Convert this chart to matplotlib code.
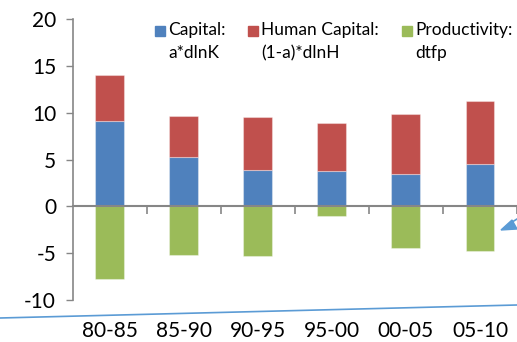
import matplotlib
matplotlib.use("Agg")
import matplotlib.pyplot as plt
import numpy as np
from matplotlib.lines import Line2D
from matplotlib.patches import Polygon, Rectangle

plt.rcParams["font.family"] = ["Lato", "DejaVu Sans"]
plt.rcParams["axes.unicode_minus"] = False

periods = ["80-85", "85-90", "90-95", "95-00", "00-05", "05-10"]
capital = [9.1, 5.3, 3.9, 3.8, 3.5, 4.5]
human = [4.9, 4.35, 5.6, 5.05, 6.4, 6.7]
tfp = [-7.75, -5.2, -5.3, -1.0, -4.5, -4.75]

BLUE, RED, GREEN = "#4F81BD", "#C0504D", "#9BBB59"
AXIS = "#868686"

fig = plt.figure(figsize=(5.17, 3.42), dpi=100)
ax = fig.add_axes([0.1406, 0.1228, 0.8594, 0.8216])

x = np.arange(len(periods))
w = 0.39
edge = dict(edgecolor=(1, 1, 1, 0.35), linewidth=0.8)
ax.bar(x, capital, w, color=BLUE, **edge)
ax.bar(x, human, w, bottom=capital, color=RED, **edge)
ax.bar(x, tfp, w, color=GREEN, **edge)

ax.set_xlim(-0.5, len(periods) - 0.5)
ax.set_ylim(-10, 20)
ax.set_yticks(range(-10, 21, 5))
ax.tick_params(axis="y", labelsize=15, length=5, color=AXIS, width=1, pad=7)

# category labels sit below the plot, tick marks sit on the zero line between bars
ax.set_xticks(x)
ax.set_xticklabels([])
ax.set_xticks(np.arange(len(periods)) + 0.5, minor=True)
ax.tick_params(axis="x", which="major", length=0)
ax.tick_params(axis="x", which="minor", length=6, color=AXIS, width=1.2, direction="out")
for xi, lab in zip(x, periods):
    ax.text(xi, -13.3, lab, ha="center", va="center", fontsize=15)

for s in ["top", "right"]:
    ax.spines[s].set_visible(False)
ax.spines["bottom"].set_position(("data", 0))
ax.spines["bottom"].set_color(AXIS)
ax.spines["bottom"].set_linewidth(1.5)
ax.spines["left"].set_color(AXIS)
ax.spines["left"].set_linewidth(1.2)

# legend: colored squares with two-line labels
legend_items = [
    (155, BLUE, "Capital:\na*dlnK"),
    (248, RED, "Human Capital:\n(1-a)*dlnH"),
    (402, GREEN, "Productivity:\ndtfp"),
]
W, H = 517.0, 342.0
for px, col, lab in legend_items:
    fig.patches.append(Rectangle((px / W, 1 - 36 / H), 10 / W, 10 / H,
                                 color=col, transform=fig.transFigure))
    fig.text((px + 13) / W, 1 - 22 / H, lab, ha="left", va="top",
             fontsize=12.5, linespacing=1.55)

# slide decoration: thin diagonal rule and an arrow head entering from the right
fig.add_artist(Line2D([0, 1], [1 - 318 / H, 1 - 305 / H], color="#5B9BD5",
                      lw=1.2, transform=fig.transFigure))
fig.patches.append(Polygon([(501 / W, 1 - 230 / H), (512 / W, 1 - 220 / H),
                            (517 / W, 1 - 229 / H)], closed=True,
                           color="#5B9BD5", transform=fig.transFigure))
fig.add_artist(Line2D([509 / W, 1], [1 - 224 / H, 1 - 219 / H], color="#5B9BD5",
                      lw=1.2, transform=fig.transFigure))

fig.savefig("out.png", dpi=100)
